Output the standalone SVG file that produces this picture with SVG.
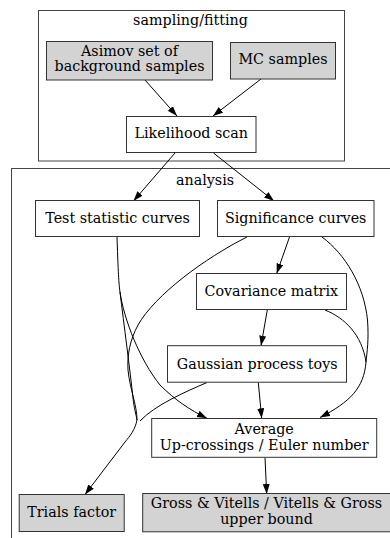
<svg xmlns="http://www.w3.org/2000/svg" width="390" height="538" viewBox="0 0 390 538">
<style>
text{font-family:"DejaVu Serif","Liberation Serif",serif;font-size:14.3px;fill:#000;text-anchor:middle}
.cl{fill:none;stroke:#444;stroke-width:1}
.n{fill:#fff;stroke:#333;stroke-width:1}
.g{fill:#d3d3d3;stroke:#333;stroke-width:1}
.e{fill:none;stroke:#000;stroke-width:1}
</style>
<defs>
<marker id="ah" markerUnits="userSpaceOnUse" markerWidth="11" markerHeight="8" refX="10" refY="3.5" orient="auto">
<path d="M0,0 L10,3.5 L0,7 z" fill="#000"/>
</marker>
</defs>
<rect x="0" y="0" width="390" height="538" fill="#fff"/>
<g id="cluster_sampling">
<rect class="cl" x="38.5" y="10.5" width="306" height="150.5"/>
<text x="190.5" y="25">sampling/fitting</text>
</g>
<g id="cluster_analysis">
<rect class="cl" x="11.5" y="168.5" width="390" height="380"/>
<text x="205" y="185">analysis</text>
</g>
<g id="edges">
<path class="e" d="M145,80 L177,116" marker-end="url(#ah)"/>
<path class="e" d="M261,79 L213,116" marker-end="url(#ah)"/>
<path class="e" d="M175,153 L133.5,201" marker-end="url(#ah)"/>
<path class="e" d="M213.5,153 L274,201" marker-end="url(#ah)"/>
<path class="e" d="M289.5,237 L276.7,273.5" marker-end="url(#ah)"/>
<path class="e" d="M267.3,310 L261,345.7" marker-end="url(#ah)"/>
<path class="e" d="M258.3,382.5 L261.7,418.3" marker-end="url(#ah)"/>
<path class="e" d="M265,457.5 L266.7,494" marker-end="url(#ah)"/>
<path class="e" d="M117,237 C118,265 118.5,282 120,292 C124,320 140,360 160,385 C175,400 190,410 207,418.3" marker-end="url(#ah)"/>
<path class="e" d="M120,292 C124,325 130,370 133,398 C134,408 136,414 137,420"/>
<path class="e" d="M247,237 C205,258 155,295 138,325 C130,340 127,355 128,370 C130,390 137,405 137,420"/>
<path class="e" d="M207,382.5 C185,392 155,405 140,421"/>
<path class="e" d="M137,420 C135,430 130,436 125,442 L85,494.5" marker-end="url(#ah)"/>
<path class="e" d="M322,237 C345,254 364,285 367.5,320 C369,340 367,352 366,362"/>
<path class="e" d="M325,310 C345,318 362,335 366,362"/>
<path class="e" d="M366,362 C364,388 350,402 320,417.5" marker-end="url(#ah)"/>
</g>
<g id="asimov">
<rect class="g" x="46.5" y="41.5" width="166" height="38.5"/>
<text x="129.5" y="56.3">Asimov set of</text>
<text x="129.5" y="71.2">background samples</text>
</g>
<g id="mc">
<rect class="g" x="230.5" y="42.5" width="105" height="36.5"/>
<text x="283" y="64.3">MC samples</text>
</g>
<g id="likelihood">
<rect class="n" x="126.5" y="116.5" width="129.5" height="36"/>
<text x="191.3" y="138.3">Likelihood scan</text>
</g>
<g id="teststat">
<rect class="n" x="35.5" y="200.5" width="164" height="36"/>
<text x="117.5" y="222.7">Test statistic curves</text>
</g>
<g id="significance">
<rect class="n" x="217.5" y="200.5" width="156.5" height="36"/>
<text x="295.7" y="222.7">Significance curves</text>
</g>
<g id="covariance">
<rect class="n" x="196.5" y="273.5" width="150" height="36"/>
<text x="271.3" y="296">Covariance matrix</text>
</g>
<g id="gaussian">
<rect class="n" x="167.5" y="345.7" width="179" height="36.5"/>
<text x="257.2" y="369">Gaussian process toys</text>
</g>
<g id="average">
<rect class="n" x="151.7" y="418.5" width="225" height="38.8"/>
<text x="264.2" y="433.8">Average</text>
<text x="264.2" y="449.5">Up-crossings / Euler number</text>
</g>
<g id="trials">
<rect class="g" x="19.2" y="494.5" width="105" height="37"/>
<text x="71.7" y="516.7">Trials factor</text>
</g>
<g id="gross">
<rect class="g" x="142.7" y="493.5" width="248" height="38.3"/>
<text x="266.5" y="508.3">Gross &amp; Vitells / Vitells &amp; Gross</text>
<text x="266.5" y="524">upper bound</text>
</g>
</svg>
